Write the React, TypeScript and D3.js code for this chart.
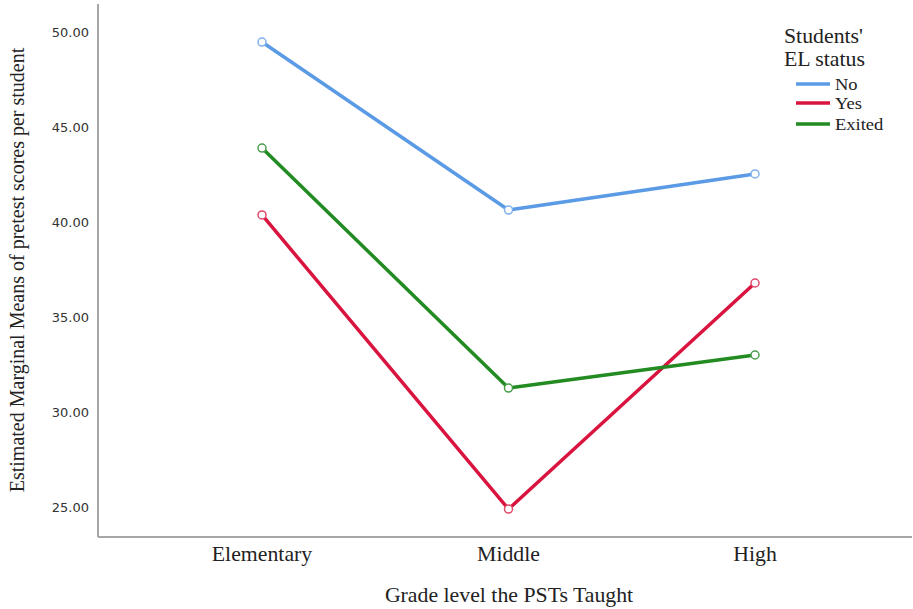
import React from "react";
import * as d3 from "d3";

const categories = ["Elementary", "Middle", "High"];
const seriesNames = ["No", "Yes", "Exited"];
const noValues = [49.47, 40.63, 42.53];
const yesValues = [40.37, 24.89, 36.79];
const exitedValues = [43.89, 31.26, 33.0];
const yTicks = [25, 30, 35, 40, 45, 50];
const seriesColors = ["#5b9be6", "#d8143f", "#228b22"];
const markerColors = ["#7fb1ee", "#e04a6a", "#4a9e4a"];

const W = 913;
const H = 609;
const axisX = 98;
const axisBottom = 537;
const axisTop = 4;
const axisRight = 912;
const SX = 1.09;

const serifStyle = { fontFamily: "Liberation Serif, Times New Roman, DejaVu Serif, serif" };
const sansStyle = { fontFamily: "DejaVu Sans, sans-serif" };

function HText(props: { x: number; y: number; size: number; anchor?: string; dy?: string; children: React.ReactNode }) {
  return (
    <text
      transform={`translate(${props.x},${props.y}) scale(${SX},1)`}
      textAnchor={props.anchor || "start"}
      dy={props.dy}
      style={serifStyle}
      fontSize={props.size}
      fill="#222"
    >
      {props.children}
    </text>
  );
}

export default function App() {
  const y = d3.scaleLinear().domain([25, 50]).range([507, 32]);
  const x = d3.scalePoint<string>().domain(categories).range([262, 755]);
  const allSeries = [noValues, yesValues, exitedValues];
  const line = d3
    .line<number>()
    .x((_, i) => x(categories[i]) as number)
    .y((d) => y(d));

  return (
    <svg width={W} height={H} style={{ position: "absolute", left: 0, top: 0, background: "#fff" }}>
      <rect width={W} height={H} fill="#fff" />
      <line x1={axisX} y1={axisTop} x2={axisX} y2={axisBottom} stroke="#a6a6a6" strokeWidth={2} />
      <line x1={axisX} y1={axisBottom} x2={axisRight} y2={axisBottom} stroke="#a6a6a6" strokeWidth={2} />
      {yTicks.map((t) => (
        <text key={t} x={89} y={y(t)} dy="0.35em" textAnchor="end" style={sansStyle} fontSize={13} fill="#333">
          {t.toFixed(2)}
        </text>
      ))}
      {categories.map((c) => (
        <HText key={c} x={x(c) as number} y={561} size={20} anchor="middle">
          {c}
        </HText>
      ))}
      <HText x={509} y={602} size={20} anchor="middle">
        Grade level the PSTs Taught
      </HText>
      <text transform={`translate(24,270) rotate(-90)`} textAnchor="middle" style={serifStyle} fontSize={20} fill="#222">
        Estimated Marginal Means of pretest scores per student
      </text>
      {allSeries.map((vals, si) => (
        <g key={seriesNames[si]}>
          <path d={line(vals) || ""} fill="none" stroke={seriesColors[si]} strokeWidth={3.5} strokeLinejoin="round" />
          {vals.map((v, i) => (
            <circle key={i} cx={x(categories[i])} cy={y(v)} r={4} fill="#fff" stroke={markerColors[si]} strokeWidth={1.5} />
          ))}
        </g>
      ))}
      <HText x={784} y={43} size={20}>Students'</HText>
      <HText x={784} y={66} size={20}>EL status</HText>
      {seriesNames.map((n, i) => {
        const ly = [84, 103, 124][i];
        return (
          <g key={n}>
            <line x1={796} x2={830} y1={ly} y2={ly} stroke={seriesColors[i]} strokeWidth={3.5} />
            <HText x={835} y={ly} size={17} dy="0.35em">
              {n}
            </HText>
          </g>
        );
      })}
    </svg>
  );
}
